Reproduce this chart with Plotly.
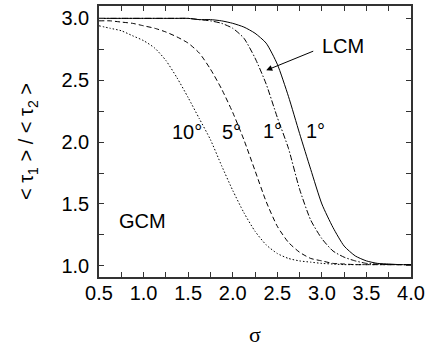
import plotly.graph_objects as go

# sigma grid (x axis)
sigma = [0.5, 0.625, 0.75, 0.875, 1.0, 1.125, 1.25, 1.375, 1.5, 1.625, 1.75, 1.875,
         2.0, 2.125, 2.25, 2.375, 2.5, 2.625, 2.75, 2.875, 3.0, 3.125, 3.25, 3.375,
         3.5, 3.625, 3.75, 3.875, 4.0]

# <tau1>/<tau2>
lcm_1deg = [3.00, 3.00, 3.00, 3.00, 3.00, 3.00, 3.00, 3.00, 3.00, 2.99, 2.99, 2.98,
            2.96, 2.93, 2.88, 2.80, 2.63, 2.37, 2.07, 1.78, 1.50, 1.31, 1.16, 1.08,
            1.04, 1.02, 1.015, 1.01, 1.01]
gcm_1deg = [3.00, 3.00, 3.00, 3.00, 3.00, 3.00, 3.00, 3.00, 3.00, 2.99, 2.98, 2.96,
            2.92, 2.84, 2.68, 2.47, 2.20, 1.95, 1.62, 1.37, 1.22, 1.12, 1.07, 1.04,
            1.02, 1.015, 1.01, 1.01, 1.01]
gcm_5deg = [2.98, 2.98, 2.97, 2.96, 2.94, 2.92, 2.89, 2.85, 2.80, 2.72, 2.59, 2.43,
            2.24, 2.02, 1.77, 1.52, 1.32, 1.19, 1.11, 1.06, 1.04, 1.02, 1.015, 1.01,
            1.01, 1.01, 1.01, 1.01, 1.01]
gcm_10deg = [2.94, 2.92, 2.90, 2.86, 2.82, 2.76, 2.66, 2.52, 2.36, 2.19, 2.02, 1.81,
             1.61, 1.43, 1.28, 1.17, 1.10, 1.06, 1.04, 1.03, 1.02, 1.015, 1.01, 1.01,
             1.01, 1.01, 1.01, 1.01, 1.01]

series = [
    ("LCM 1°", lcm_1deg, "solid"),
    ("GCM 1°", gcm_1deg, "6px,2px,1.5px,2px"),
    ("GCM 5°", gcm_5deg, "5px,3px"),
    ("GCM 10°", gcm_10deg, "1.5px,2px"),
]

FONT = "Liberation Sans, Arial, sans-serif"
FS = 20

fig = go.Figure()
for name, vals, dash in series:
    fig.add_trace(go.Scatter(x=sigma, y=vals, mode="lines", name=name,
                             line=dict(color="black", width=1, dash=dash,
                                       shape="spline", smoothing=0.6),
                             showlegend=False, hoverinfo="skip"))

# labels
labels = [("10°", 1.485, 2.08), ("5°", 1.99, 2.08), ("1°", 2.45, 2.09),
          ("1°", 2.93, 2.09), ("LCM", 3.237, 2.78), ("GCM", 0.987, 1.36)]
for txt, x, y in labels:
    fig.add_annotation(x=x, y=y, text=txt, showarrow=False,
                       font=dict(family=FONT, size=FS, color="black"))

fig.add_annotation(x=2.376, y=2.58, ax=2.92, ay=2.74, axref="x", ayref="y",
                   xref="x", yref="y", text="", showarrow=True,
                   arrowhead=2, arrowsize=1.2, arrowwidth=1, arrowcolor="black")

axis_common = dict(
    showline=True, linecolor="#333", linewidth=1.5, mirror="ticks",
    ticks="inside", ticklen=5, tickwidth=1, tickcolor="#333",
    showgrid=False, zeroline=False,
    tickfont=dict(family=FONT, size=FS, color="black"),
)

fig.update_xaxes(range=[0.5, 4.0], dtick=0.5, tick0=0.5, tickformat=".1f",
                 minor=dict(dtick=0.25, ticks="inside", ticklen=5, tickcolor="#333"),
                 ticklabelstandoff=-3,
                 title=dict(text="σ", font=dict(family="Liberation Serif, serif", size=22, color="black"),
                            standoff=24),
                 **axis_common)
fig.update_yaxes(range=[0.91, 3.1], dtick=0.5, tick0=1.0, tickformat=".1f",
                 minor=dict(dtick=0.25, ticks="inside", ticklen=5, tickcolor="#333"),
                 ticklabelstandoff=4,
                 title=dict(text="< τ<sub>1</sub> > / < τ<sub>2</sub> >",
                            font=dict(family=FONT, size=FS, color="black"), standoff=22),
                 **axis_common)

fig.update_layout(width=429, height=349, margin=dict(l=99, r=17, t=4, b=72),
                  paper_bgcolor="white", plot_bgcolor="white")

fig.write_html("out.html", config={"displayModeBar": False},
               post_script="document.body.style.margin='0';")
